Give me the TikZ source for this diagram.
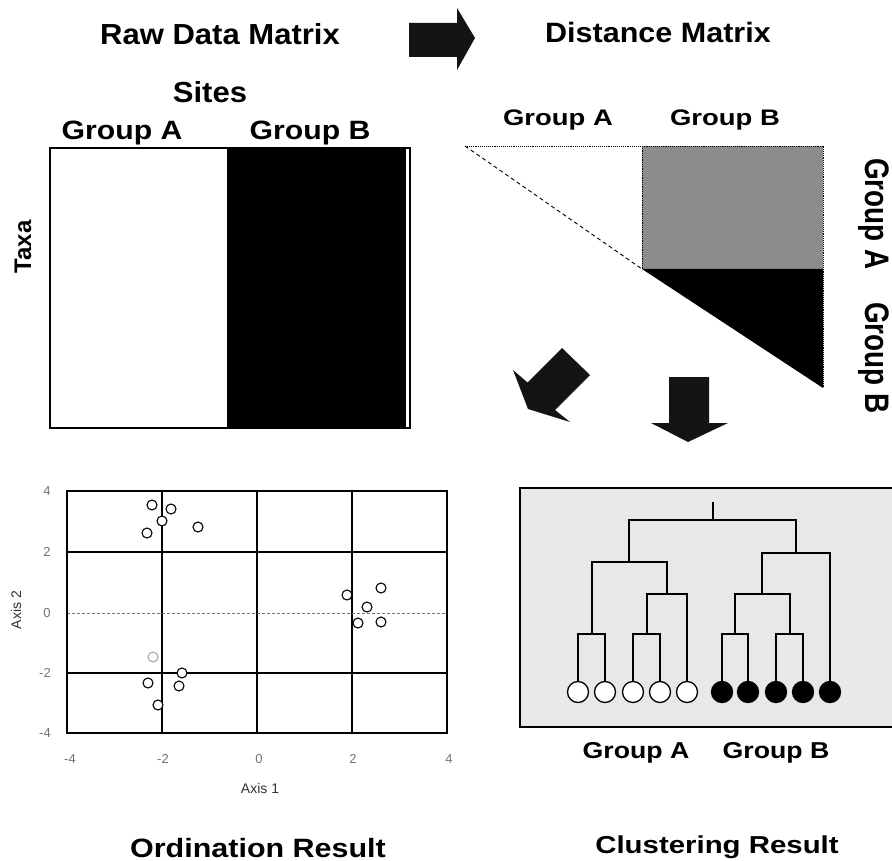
\documentclass[tikz,border=0pt]{standalone}
\usepackage{fontspec}
\setmainfont{Liberation Sans}
\usepackage{graphicx}
% bold label with its own size and horizontal stretch
\newcommand{\wtxt}[3]{\scalebox{#2}[1]{\fontsize{#1}{#1}\selectfont\bfseries #3}}

\begin{document}
\begin{tikzpicture}[x=1pt,y=-1pt,
  lbl/.style={inner sep=0pt, anchor=base},
  ticklbl/.style={inner sep=0pt, font=\fontsize{13}{13}\selectfont, text=black!55},
  axlbl/.style={inner sep=0pt, font=\fontsize{14}{14}\selectfont, text=black!80},
  pt/.style={circle, draw, fill=white, line width=1.1pt, minimum size=10pt, inner sep=0pt},
  leafA/.style={circle, draw, fill=white, line width=1.3pt, minimum size=21pt, inner sep=0pt},
  leafB/.style={leafA, fill=black},
  dendro/.style={line width=2pt},
  blockarrow/.style={fill=black!92},
  gridln/.style={line width=1.3pt}
]
\useasboundingbox (0,0) rectangle (892,861);
\fill[white] (0,0) rectangle (892,861);

% ---------- titles ----------
\node[lbl] (tRaw)  at (220,45)  {\wtxt{29}{1.07}{Raw Data Matrix}};
\node[lbl] (tDist) at (658,43)  {\wtxt{28}{1.09}{Distance Matrix}};
\fill[blockarrow] (409,23) -- (457,23) -- (457,8) -- (475,38) -- (457,70) -- (457,57) -- (409,57) -- cycle;

% ---------- raw data matrix ----------
\node[lbl] (tSites) at (210,103) {\wtxt{29}{1.07}{Sites}};
\node[lbl] (tGA) at (122,140) {\wtxt{26.5}{1.14}{Group A}};
\node[lbl] (tGB) at (310,140) {\wtxt{26.5}{1.14}{Group B}};
\node[rotate=90, inner sep=0pt] (tTaxa) at (23,247) {\wtxt{24}{1.0}{Taxa}};
\fill[black] (227,148) rectangle (406,427);
\draw[line width=1.2pt] (50,148) rectangle (410,428);

% ---------- distance matrix ----------
\node[lbl] (dGA) at (558,126) {\wtxt{22.5}{1.22}{Group A}};
\node[lbl] (dGB) at (725,126) {\wtxt{22.5}{1.22}{Group B}};
\node[rotate=-90, inner sep=0pt] (dRA) at (874,214) {\wtxt{34}{0.82}{Group A}};
\node[rotate=-90, inner sep=0pt] (dRB) at (874,358) {\wtxt{34}{0.82}{Group B}};
\fill[black!45] (642,146) rectangle (823,269);
\fill[black] (642,269) -- (823,269) -- (823,388) -- cycle;
\draw[densely dotted, line width=0.9pt] (465,146) -- (823,146) -- (823,388);
\draw[densely dotted, line width=0.8pt] (642,146) -- (642,269);
\draw[dash pattern=on 4pt off 3pt, line width=0.9pt] (465,146) -- (642,269);

% ---------- arrows to the results ----------
\fill[blockarrow] (562,348) -- (590,375) -- (555,410) -- (570,422) -- (528,409)
  -- (513,370) -- (527.5,382.5) -- cycle;
\fill[blockarrow] (669,377) -- (709,377) -- (709,423) -- (728,423) -- (688,442)
  -- (651,423) -- (669,423) -- cycle;

% ---------- ordination plot ----------
\draw[gridln] (162,491) -- (162,733);
\draw[line width=1.6pt] (257,491) -- (257,733);
\draw[gridln] (352,491) -- (352,733);
\draw[gridln] (67,552) -- (447,552);
\draw[gridln] (67,673) -- (447,673);
\draw[black!55, dash pattern=on 3pt off 2pt, line width=0.9pt] (67,613) -- (447,613);
\draw[line width=1.6pt] (67,491) rectangle (447,733);

\node[ticklbl] (y4)  at (47,491) {4};
\node[ticklbl] (y2)  at (47,552) {2};
\node[ticklbl] (y0)  at (47,613) {0};
\node[ticklbl] (ym2) at (45,673) {-2};
\node[ticklbl] (ym4) at (45,733) {-4};
\node[ticklbl] (xm4) at (70,759)  {-4};
\node[ticklbl] (xm2) at (163,759) {-2};
\node[ticklbl] (x0)  at (259,759) {0};
\node[ticklbl] (x2)  at (353,759) {2};
\node[ticklbl] (x4)  at (449,759) {4};
\node[axlbl] (ax1) at (260,788) {Axis 1};
\node[axlbl, rotate=90] (ax2) at (16,610) {Axis 2};

\foreach \n/\px/\py in {p1/152/505, p2/171/509, p3/162/521, p4/147/533, p5/198/527,
    p6/347/595, p7/381/588, p8/367/607, p9/358/623, p10/381/622,
    p12/182/673, p13/148/683, p14/179/686, p15/158/705}
  \node[pt] (\n) at (\px,\py) {};
\node[pt, draw=black!35] (p11) at (153,657) {};

\node[lbl] (tOrd) at (258,857) {\wtxt{26.5}{1.15}{Ordination Result}};

% ---------- clustering dendrogram ----------
\fill[black!9] (520,488) rectangle (892,727);
\draw[line width=1.2pt] (895,488) -- (520,488) -- (520,727) -- (895,727);

\node[leafA] (la1) at (578,692) {};
\node[leafA] (la2) at (605,692) {};
\node[leafA] (la3) at (633,692) {};
\node[leafA] (la4) at (660,692) {};
\node[leafA] (la5) at (687,692) {};
\node[leafB] (lb1) at (722,692) {};
\node[leafB] (lb2) at (748,692) {};
\node[leafB] (lb3) at (776,692) {};
\node[leafB] (lb4) at (803,692) {};
\node[leafB] (lb5) at (830,692) {};

\coordinate (ja1) at (591.5,634);
\coordinate (ja2) at (646.5,634);
\coordinate (ja3) at (666.75,594);
\coordinate (ja4) at (629,562);
\coordinate (jb1) at (735,634);
\coordinate (jb2) at (789.5,634);
\coordinate (jb3) at (762.25,594);
\coordinate (jb4) at (796,553);
\coordinate (jr)  at (712.5,520);
\coordinate (jtop) at (712.5,502);

\draw[dendro] (la1.north) |- (ja1) -| (la2.north);
\draw[dendro] (la3.north) |- (ja2) -| (la4.north);
\draw[dendro] (ja2) |- (ja3) -| (la5.north);
\draw[dendro] (ja1) |- (ja4) -| (ja3);
\draw[dendro] (lb1.north) |- (jb1) -| (lb2.north);
\draw[dendro] (lb3.north) |- (jb2) -| (lb4.north);
\draw[dendro] (jb1) |- (jb3) -| (jb2);
\draw[dendro] (jb3) |- (jb4) -| (lb5.north);
\draw[dendro] (ja4) |- (jr) -| (jb4);
\draw[dendro] (jr) -- (jtop);

\node[lbl] (cGA) at (636,758) {\wtxt{23}{1.16}{Group A}};
\node[lbl] (cGB) at (776,758) {\wtxt{23}{1.16}{Group B}};
\node[lbl] (tClu) at (717,853) {\wtxt{24.5}{1.2}{Clustering Result}};
\end{tikzpicture}
\end{document}
